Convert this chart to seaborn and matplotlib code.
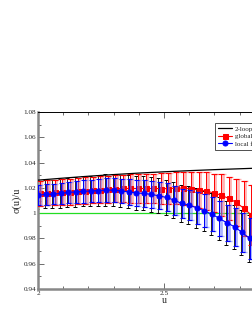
import numpy as np
import pandas as pd
import matplotlib
matplotlib.use("Agg")
import matplotlib.pyplot as plt
import seaborn as sns

# ---- data ----
u = [2.00, 2.03, 2.06, 2.09, 2.12, 2.15, 2.18, 2.21, 2.24, 2.27,
     2.30, 2.33, 2.36, 2.39, 2.42, 2.45, 2.48, 2.51, 2.54, 2.57,
     2.60, 2.63, 2.66, 2.69, 2.72, 2.75, 2.78, 2.81, 2.84]
global_fit = [1.0156, 1.0162, 1.0166, 1.0166, 1.0170, 1.0174, 1.0178, 1.0182, 1.0186, 1.0190,
              1.0194, 1.0195, 1.0195, 1.0195, 1.0195, 1.0195, 1.0194, 1.0194, 1.0198, 1.0198,
              1.0192, 1.0184, 1.0175, 1.0160, 1.0142, 1.0116, 1.0085, 1.0037, 0.9984]
global_err = [0.0098, 0.0099, 0.0100, 0.0101, 0.0102, 0.0103, 0.0104, 0.0105, 0.0106, 0.0107,
              0.0108, 0.0110, 0.0112, 0.0114, 0.0116, 0.0118, 0.0120, 0.0123, 0.0126, 0.0130,
              0.0135, 0.0142, 0.0150, 0.0153, 0.0166, 0.0171, 0.0187, 0.0216, 0.0237]
local_fit = [1.0142, 1.0148, 1.0150, 1.0156, 1.0164, 1.0168, 1.0172, 1.0176, 1.0179, 1.0182,
             1.0182, 1.0176, 1.0168, 1.0160, 1.0156, 1.0148, 1.0137, 1.0124, 1.0103, 1.0077,
             1.0063, 1.0042, 1.0018, 0.9992, 0.9958, 0.9923, 0.9892, 0.9847, 0.9800]
local_err = [0.0079, 0.0080, 0.0081, 0.0083, 0.0085, 0.0087, 0.0088, 0.0090, 0.0092, 0.0094,
             0.0096, 0.0098, 0.0100, 0.0102, 0.0104, 0.0106, 0.0108, 0.0111, 0.0114, 0.0117,
             0.0121, 0.0125, 0.0130, 0.0135, 0.0140, 0.0145, 0.0150, 0.0155, 0.0162]
local_err_tot = [0.0110, 0.0111, 0.0112, 0.0114, 0.0116, 0.0118, 0.0119, 0.0121, 0.0123, 0.0125,
                 0.0127, 0.0129, 0.0131, 0.0133, 0.0135, 0.0137, 0.0139, 0.0142, 0.0145, 0.0148,
                 0.0152, 0.0156, 0.0161, 0.0165, 0.0169, 0.0172, 0.0176, 0.0180, 0.0186]
loop_u = [2.0, 2.1, 2.2, 2.3, 2.4, 2.5, 2.6, 2.7, 2.8, 2.9, 3.0]
loop_val = [1.0261, 1.0277, 1.0292, 1.0305, 1.0317, 1.0327, 1.0336, 1.0344, 1.0351, 1.0358, 1.0364]
y_ticks = [0.94, 0.96, 0.98, 1.0, 1.02, 1.04, 1.06, 1.08]
y_ticklabels = ["0.94", "0.96", "0.98", "1", "1.02", "1.04", "1.06", "1.08"]
x_ticks = [2.0, 2.5]
x_ticklabels = ["2", "2.5"]

sns.set_style("ticks")
plt.rcParams['font.family'] = ['Liberation Serif', 'DejaVu Serif']
plt.rcParams['mathtext.fontset'] = 'stix'

fig = plt.figure(figsize=(2.53, 3.27), dpi=100)
W, H = 253, 327
ax = fig.add_axes([38 / W, 1 - 289 / H, 252 / W, 177 / H])

df_g = pd.DataFrame({"u": np.array(u) + 0.007, "v": global_fit})
df_l = pd.DataFrame({"u": u, "v": local_fit})
df_2 = pd.DataFrame({"u": loop_u, "v": loop_val})

ax.axhline(1.0, color="#22dd22", lw=0.9, zorder=1)

# black total errors for local fit
ax.errorbar(np.array(u) - 0.003, local_fit, yerr=local_err_tot, fmt="none",
            ecolor="black", elinewidth=0.6, capsize=1.2, capthick=0.7, zorder=2)

# global fit errors
ax.errorbar(df_g["u"] + 0.006, global_fit, yerr=global_err, fmt="none",
            ecolor="#ff7777", alpha=0.55, elinewidth=2.0, capsize=2.2, capthick=1.0, zorder=3)
ax.errorbar(df_g["u"], global_fit, yerr=global_err, fmt="none",
            ecolor="red", elinewidth=0.7, capsize=2.2, capthick=0.8, zorder=3)

sns.lineplot(data=df_2, x="u", y="v", color="black", lw=0.9, ax=ax, label="2-loop", zorder=4)
sns.lineplot(data=df_g, x="u", y="v", color="red", lw=0.8, marker="s", markersize=3.6,
             markeredgecolor="red", ax=ax, label="global fit", zorder=5)

ax.errorbar(np.array(u) + 0.006, local_fit, yerr=local_err, fmt="none",
            ecolor="#6677ff", alpha=0.55, elinewidth=2.0, capsize=1.8, capthick=1.0, zorder=6)
ax.errorbar(u, local_fit, yerr=local_err, fmt="none",
            ecolor="blue", elinewidth=0.7, capsize=1.8, capthick=0.8, zorder=6)
sns.lineplot(data=df_l, x="u", y="v", color="blue", lw=0.8, marker="o", markersize=3.6,
             markeredgecolor="blue", ax=ax, label="local fit", zorder=7)

ax.set_xlim(2.0, 3.0)
ax.set_ylim(0.94, 1.08)
ax.set_yticks(y_ticks)
ax.set_yticklabels(y_ticklabels)
ax.set_xticks(x_ticks)
ax.set_xticklabels(x_ticklabels)
ax.set_xticks(np.arange(2.1, 3.0, 0.1), minor=True)
ax.set_yticks(np.arange(0.95, 1.08, 0.02), minor=True)
ax.tick_params(which="both", direction="in", top=True, right=True, labelsize=5.2,
               pad=1.5, width=0.6, color="#555555")
ax.tick_params(which="major", length=4)
ax.tick_params(which="minor", length=2.5)
ax.set_xlabel("u", fontsize=7, labelpad=0)
ax.set_ylabel("σ(u)/u", fontsize=7.5, labelpad=1)

for side in ["left", "bottom"]:
    ax.spines[side].set_color("#888888")
    ax.spines[side].set_linewidth(1.8)
ax.spines["top"].set_color("black")
ax.spines["top"].set_linewidth(0.7)
ax.spines["right"].set_color("black")
ax.spines["right"].set_linewidth(0.7)

leg = ax.legend(loc="upper left", bbox_to_anchor=((215 - 38) / 252, 1 - (123 - 112) / 177),
                fontsize=5, frameon=True, fancybox=False, borderpad=0.4,
                handlelength=2.0, handletextpad=0.5, labelspacing=0.25, borderaxespad=0)
leg.get_frame().set_edgecolor("black")
leg.get_frame().set_linewidth(0.6)

fig.savefig("out.png", dpi=100)
